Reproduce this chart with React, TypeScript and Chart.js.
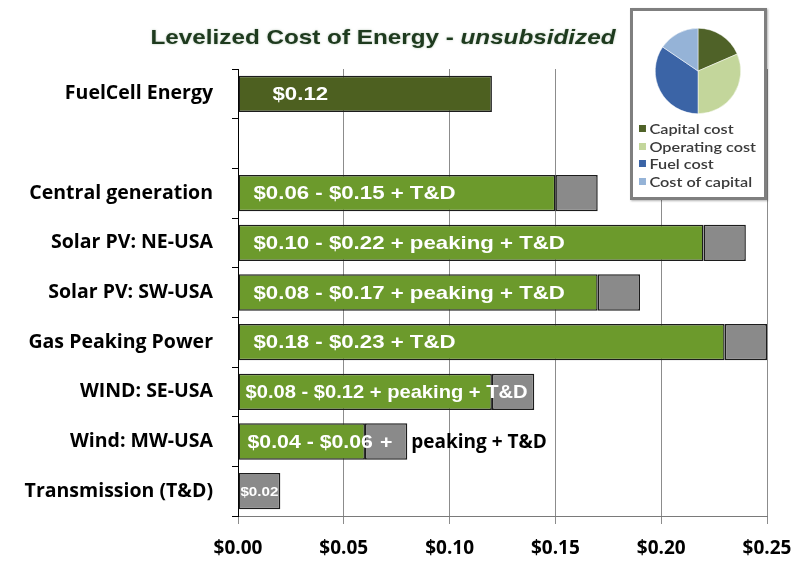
import React, { useEffect, useRef } from "react";
import { Chart, registerables } from "chart.js";
Chart.register(...registerables);

// ---- data ----
const categories = [
  "FuelCell Energy",
  "",
  "Central generation",
  "Solar PV: NE-USA",
  "Solar PV: SW-USA",
  "Gas Peaking Power",
  "WIND: SE-USA",
  "Wind: MW-USA",
  "Transmission (T&D)",
];
const generationCost = [0.12, null, 0.15, 0.22, 0.17, 0.23, 0.12, 0.06, 0];
const tdCost = [null, null, 0.02, 0.02, 0.02, 0.02, 0.02, 0.02, 0.02];
const barLabels = [
  "$0.12",
  "",
  "$0.06 - $0.15 + T&D",
  "$0.10 - $0.22 + peaking + T&D",
  "$0.08 - $0.17 + peaking + T&D",
  "$0.18 - $0.23 + T&D",
  "$0.08 - $0.12 + peaking + T&D",
  "$0.04 - $0.06",
  "",
];
const tdLabels = ["", "", "", "", "", "", "", "+", "$0.02"];
const outsideLabels = ["", "", "", "", "", "", "", "peaking + T&D", ""];
const xTickValues = [0, 0.05, 0.1, 0.15, 0.2, 0.25];

const pieLabels = ["Capital cost", "Operating cost", "Fuel cost", "Cost of capital"];
const pieShares = [18.5, 31.5, 34.5, 15.5];

// ---- styles ----
const pieColors = ["#4f6228", "#c3d69b", "#3b64a6", "#95b3d7"];
const labelInset = [34, 0, 15, 15, 15, 15, 7, 9, 0];
const labelStretch = [1.17, 1.17, 1.17, 1.17, 1.17, 1.17, 1.06, 1.12, 1.17];
const barFill = (i: number) => (i === 0 ? "#4d6020" : "#6c9a2c");

function stretchedText(ctx: any, text: string, x: number, y: number, align: string, k: number) {
  ctx.save();
  ctx.translate(x, y);
  ctx.scale(k, 1);
  ctx.textAlign = align;
  ctx.fillText(text, 0, 0);
  ctx.restore();
}

const labelPlugin = {
  id: "barLabels",
  afterDatasetsDraw(chart: any) {
    const ctx = chart.ctx;
    const m0 = chart.getDatasetMeta(0);
    const m1 = chart.getDatasetMeta(1);
    ctx.save();
    ctx.textBaseline = "middle";
    categories.forEach((_, i) => {
      const b0 = m0.data[i];
      const b1 = m1.data[i];
      if (barLabels[i] && b0) {
        ctx.font = "bold 19px 'Liberation Sans', Arial, sans-serif";
        ctx.fillStyle = "#ffffff";
        stretchedText(ctx, barLabels[i], b0.base + labelInset[i], b0.y + 1, "left", labelStretch[i]);
      }
      if (tdLabels[i] && b1) {
        const small = tdLabels[i].length > 2;
        ctx.font = small
          ? "bold 13px 'Liberation Sans', Arial, sans-serif"
          : "bold 19px 'Liberation Sans', Arial, sans-serif";
        ctx.fillStyle = "#ffffff";
        stretchedText(ctx, tdLabels[i], (b1.base + b1.x) / 2, b1.y + 1, "center", labelStretch[i]);
      }
      if (outsideLabels[i] && b1) {
        ctx.font = "bold 19px 'Open Sans', sans-serif";
        ctx.fillStyle = "#000000";
        ctx.textAlign = "left";
        ctx.fillText(outsideLabels[i], b1.x + 4, b1.y + 1);
      }
    });
    ctx.restore();
  },
};

export default function App() {
  const barRef = useRef<HTMLCanvasElement>(null);
  const pieRef = useRef<HTMLCanvasElement>(null);

  useEffect(() => {
    const bar = new Chart(barRef.current!, {
      type: "bar",
      data: {
        labels: categories,
        datasets: [
          {
            label: "Generation",
            data: generationCost as any,
            backgroundColor: categories.map((_, i) => barFill(i)),
            borderColor: "#1c1c1c",
            borderWidth: 1.5,
            borderSkipped: false,
            barPercentage: 0.73,
            categoryPercentage: 1,
          },
          {
            label: "T&D",
            data: tdCost as any,
            backgroundColor: "#8a8a8a",
            borderColor: "#1c1c1c",
            borderWidth: 1.5,
            borderSkipped: false,
            barPercentage: 0.73,
            categoryPercentage: 1,
          },
        ],
      },
      options: {
        indexAxis: "y",
        animation: false,
        responsive: false,
        layout: { padding: { top: 69, right: 31, left: 0, bottom: 0 } },
        plugins: { legend: { display: false }, tooltip: { enabled: false } },
        scales: {
          x: {
            stacked: true,
            min: 0,
            max: 0.25,
            afterBuildTicks: (s: any) => {
              s.ticks = xTickValues.map((v) => ({ value: v }));
            },
            afterFit: (s: any) => {
              s.height = 45;
              s.paddingLeft = 0;
              s.paddingRight = 0;
            },
            grid: { color: "#8c8c8c", lineWidth: 1, tickLength: 8 },
            border: { color: "#7a7a7a", width: 1 },
            ticks: {
              color: "#000",
              padding: 13,
              maxRotation: 0,
              font: { family: "'Open Sans'", weight: "bold", size: 19 },
              callback: (v: any) => "$" + Number(v).toFixed(2),
            },
          },
          y: {
            stacked: true,
            afterFit: (s: any) => {
              s.width = 238;
              s.paddingTop = 0;
              s.paddingBottom = 0;
            },
            grid: {
              drawOnChartArea: false,
              drawTicks: true,
              tickLength: 6,
              offset: true,
              color: "#000",
            },
            border: { color: "#000", width: 1 },
            ticks: {
              color: "#000",
              padding: 19,
              font: { family: "'Open Sans'", weight: "bold", size: 19.5 },
            },
          },
        },
      },
      plugins: [labelPlugin],
    });

    const pie = new Chart(pieRef.current!, {
      type: "pie",
      data: {
        labels: pieLabels,
        datasets: [
          {
            data: pieShares,
            backgroundColor: pieColors,
            borderColor: "#ffffff",
            borderWidth: 0.5,
          },
        ],
      },
      options: {
        animation: false,
        responsive: false,
        layout: { padding: 0 },
        plugins: { legend: { display: false }, tooltip: { enabled: false } },
      },
    });

    return () => {
      bar.destroy();
      pie.destroy();
    };
  }, []);

  return (
    <div
      style={{
        position: "absolute",
        left: 0,
        top: 0,
        width: 798,
        height: 561,
        background: "#ffffff",
        overflow: "hidden",
      }}
    >
      <canvas ref={barRef} width={798} height={561} style={{ position: "absolute", left: 0, top: 0 }} />
      <div
        style={{
          position: "absolute",
          left: 0,
          width: 766,
          top: 25,
          textAlign: "center",
          fontFamily: "'Liberation Sans', Arial, sans-serif",
          fontWeight: "bold",
          fontSize: 21,
          color: "#1e3a1e",
          textShadow: "0 0 2px rgba(120,150,120,0.6)",
          whiteSpace: "nowrap",
          transform: "scaleX(1.155)",
          transformOrigin: "383px 0",
        }}
      >
        Levelized Cost of Energy - <i>unsubsidized</i>
      </div>
      <div
        style={{
          position: "absolute",
          left: 630,
          top: 8,
          width: 131,
          height: 186,
          border: "3px solid #7f7f7f",
          background: "#ffffff",
          boxShadow: "1px 1px 2px rgba(0,0,0,0.3)",
        }}
      >
        <canvas ref={pieRef} width={86} height={86} style={{ position: "absolute", left: 22, top: 17 }} />
        <div
          style={{
            position: "absolute",
            left: 6,
            top: 109,
            fontFamily: "Lato, sans-serif",
            fontWeight: 600,
            fontSize: 14,
            lineHeight: "17.5px",
            color: "#3a3a3a",
            whiteSpace: "nowrap",
            transform: "scaleX(1.16)",
            transformOrigin: "0 0",
          }}
        >
          {pieLabels.map((l, i) => (
            <div key={l} style={{ display: "flex", alignItems: "center" }}>
              <span
                style={{
                  display: "inline-block",
                  width: 6,
                  height: 7,
                  background: pieColors[i],
                  marginRight: 3,
                }}
              />
              {l}
            </div>
          ))}
        </div>
      </div>
    </div>
  );
}
